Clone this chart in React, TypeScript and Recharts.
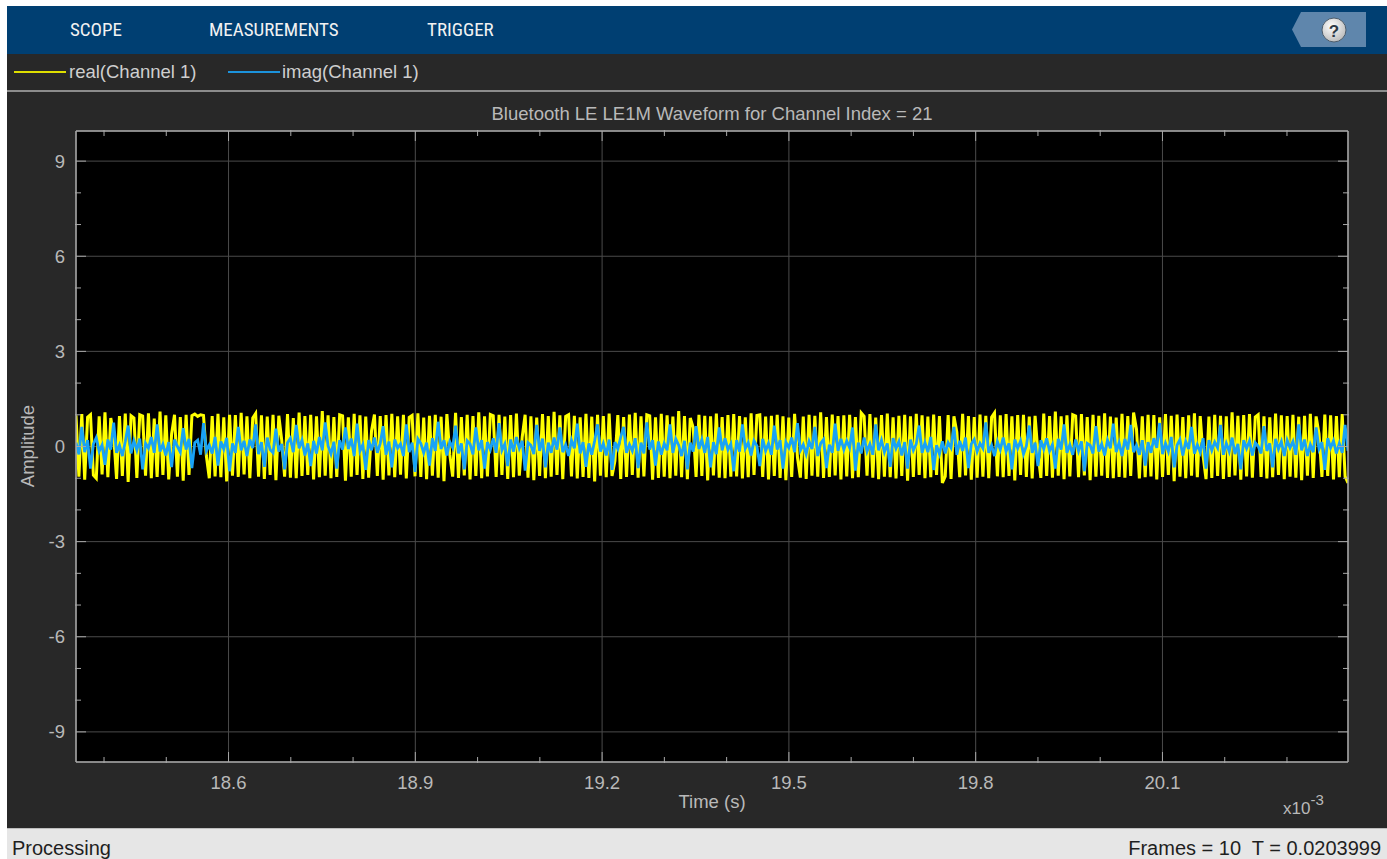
import React from "react";
import { LineChart, Line, XAxis, YAxis, CartesianGrid } from "recharts";

const REAL_CH1 = [
  0.98, -0.95, 1.02, -1.05, 0.92, 1.0, -0.9, -1.0, 0.95, -0.88, 1.08, -0.97, 0.9, 0.35, -1.02, 0.96, -0.93, 1.04, -1.12, 0.97,
  0.9, -0.99, 1.0, 0.96, -0.92, 1.05, -1.0, 0.88, -0.96, 1.1, -0.9, 0.98, -1.04, 0.4, 1.0, -0.95, 0.93, -1.08, 1.0, -0.9,
  0.97, 1.02, 0.95, 1.0, 0.98, -0.3, -1.0, 0.96, -0.94, 1.03, -0.97, 0.92, -1.1, 1.0, -0.92, 0.99, -0.96, 1.06, -0.88, 0.95,
  -1.0, 0.9, 1.04, -0.95, 0.98, -1.02, 0.94, -0.9, 1.0, -1.06, 0.97, 0.2, -0.95, 1.02, -0.98, 0.9, -1.0, 1.07, -0.93, 0.96,
  -0.9, 1.0, -1.04, 0.95, -0.97, 1.12, -0.92, 0.98, -1.0, 0.93, -0.96, 1.0, 0.97, -1.08, 0.92, -0.95, 1.03, -0.9, 0.98, -1.02,
  0.94, -0.98, 0.5, 1.01, -0.93, 0.96, -1.05, 0.99, -0.91, 1.03, -0.97, 0.95, -0.89, 1.0, -1.01, 0.92, 0.98, -0.94, 1.05, -0.96,
  0.91, -1.03, 0.97, -0.92, 1.0, -0.98, 0.94, -1.09, 1.02, -0.25, -0.95, 1.06, -0.99, 0.93, -0.91, 1.0, -1.04, 0.96, -0.93, 1.08,
  -1.0, 0.95, -0.94, 1.01, 0.97, -0.96, 1.0, -0.9, 0.94, -1.02, 0.99, -0.97, 1.04, -0.92, 0.3, 1.0, -0.98, 0.95, -1.06, 0.91,
  -0.93, 1.02, -1.0, 0.96, -0.95, 1.09, -0.9, 0.98, -1.03, 0.95, 1.0, -0.94, 0.97, -1.01, 0.92, -0.96, 1.03, -0.99, 0.94, -1.1,
  1.0, -0.92, 0.96, -0.97, 1.04, -0.93, -0.45, 0.99, -1.02, 0.93, -0.96, 1.01, -0.9, 1.06, -0.98, 0.95, -0.94, 1.0, 0.97, -1.05,
  0.92, -0.99, 1.03, -0.95, 0.98, -1.0, 0.94, -0.92, 1.12, -0.97, 0.96, -1.03, 0.9, 0.6, -0.96, 1.0, -0.93, 0.97, -1.07, 0.95,
  -0.91, 1.04, -0.98, 0.93, -1.0, 0.99, -0.95, 1.02, -0.94, 0.96, -1.01, 0.92, -0.97, 1.05, -0.9, 0.98, 1.0, -0.96, 0.94, -1.04,
  0.97, -0.93, 1.0, -0.99, 0.95, -1.06, 0.91, -0.96, 1.03, -0.35, -0.98, 0.94, -1.02, 1.0, -0.92, 0.97, -0.95, 1.08, -0.99, 0.93,
  -0.96, 1.01, -0.91, 0.96, -1.04, 0.98, -0.94, 1.0, -1.0, 0.93, -0.97, 1.06, 0.95, -0.92, 1.02, -0.98, 0.91, -1.03, 0.99, -0.95,
  1.04, -0.97, 0.92, -1.01, 0.97, -0.93, 1.0, -1.08, 0.95, -0.96, 1.03, -0.9, 0.98, -1.0, 0.94, -0.97, 1.01, -0.9, 0.96, -1.15,
  -0.94, 0.99, -1.02, 0.95, 0.45, -0.97, 1.03, -0.91, 0.96, -1.05, 0.93, -0.98, 1.01, -0.95, 0.97, -1.0, 0.92, 1.06, -0.94, 0.98,
  -0.97, 1.02, -0.93, 0.95, -1.07, 0.99, -0.9, 1.0, -0.96, 0.94, -1.01, 0.97, -0.2, -0.99, 1.04, -0.93, 0.96, -0.98, 1.1, -0.92,
  0.95, -1.03, 0.98, -0.94, 1.0, 0.96, -0.97, 1.02, -0.91, 0.93, -1.06, 1.0, -0.95, 0.97, -0.92, 1.05, -0.99, 0.94, -1.0, 0.91,
  -0.96, 1.03, -0.98, 0.96, -0.93, 1.07, 0.55, -1.01, 0.95, -0.97, 1.0, -0.94, 0.99, -1.04, 0.92, -0.96, 1.02, -0.9, 0.97, -1.09,
  1.01, -0.95, 0.93, -1.0, 0.98, -0.92, 1.05, -0.97, 0.96, -0.3, -1.03, 0.94, -0.99, 1.0, -0.93, 0.97, -1.02, 0.95, -0.96, 1.08,
  -0.91, 0.97, -1.05, 0.99, -0.94, 1.02, -0.98, 0.93, 1.0, -0.96, 0.95, -1.01, 0.92, -0.97, 1.04, -0.9, 0.98, -1.03, 0.96, -0.95,
  1.0, -0.98, 0.94, -1.06, 0.97, -0.92, 1.03, -0.99, 0.95, 0.4, -0.96, 1.01, -0.93, 0.98, -1.04, 0.96, -0.97, 1.02, -0.94, -1.15,
];

// imag(Channel 1) samples
const IMAG_CH1 = [
  0.12, -0.25, 0.62, -0.18, 0.2, -0.7, 0.08, 0.28, -0.15, 0.05, -0.58, 0.22, -0.1, 0.75, -0.2, 0.04, -0.3, 0.15, 0.66, -0.22,
  0.18, -0.12, 0.25, -0.72, 0.1, -0.05, 0.3, -0.2, 0.7, -0.16, 0.07, -0.28, 0.14, -0.65, 0.22, 0.0, -0.18, 0.58, -0.1, 0.24,
  -0.68, 0.12, 0.2, -0.26, 0.74, -0.14, 0.05, -0.22, 0.3, -0.6, 0.16, -0.08, 0.27, -0.78, 0.1, -0.2, 0.62, -0.12, 0.18, -0.3,
  0.22, -0.05, 0.7, -0.24, 0.14, -0.64, 0.28, -0.1, -0.2, 0.56, -0.16, 0.08, -0.72, 0.12, 0.26, -0.18, 0.68, -0.06, 0.2, -0.28,
  0.1, -0.62, 0.18, -0.22, 0.3, -0.12, 0.76, 0.02, -0.24, 0.15, -0.7, 0.2, -0.1, 0.6, -0.08, 0.25, -0.3, 0.72, -0.14, 0.06,
  -0.74, 0.2, -0.12, 0.28, -0.2, 0.1, 0.64, -0.26, 0.16, -0.66, 0.22, -0.05, 0.08, -0.3, 0.7, -0.18, 0.12, -0.8, 0.24, 0.1,
  -0.2, 0.12, -0.6, 0.26, -0.14, 0.78, -0.08, 0.2, -0.28, 0.15, -0.04, 0.66, -0.22, 0.1, -0.72, 0.18, 0.08, -0.25, 0.6, -0.12,
  0.2, -0.7, 0.14, -0.1, 0.26, -0.2, 0.74, -0.12, 0.08, -0.62, 0.22, -0.16, 0.3, -0.06, 0.18, -0.76, 0.12, 0.04, -0.24, 0.68,
  -0.14, 0.25, -0.66, 0.12, -0.2, 0.28, -0.1, 0.6, -0.18, 0.06, -0.3, 0.2, -0.06, 0.72, -0.22, 0.14, -0.64, 0.1, -0.26, 0.18,
  0.7, -0.16, 0.1, -0.28, 0.22, -0.74, 0.14, -0.08, 0.3, 0.62, -0.2, 0.06, -0.14, 0.26, -0.68, 0.12, -0.22, 0.76, -0.1, 0.2,
  -0.6, 0.16, -0.26, 0.1, -0.12, 0.7, -0.2, 0.24, 0.04, -0.3, 0.18, -0.72, 0.12, -0.16, 0.64, -0.08, 0.22, -0.2, 0.3, -0.66,
  0.14, -0.24, 0.6, -0.12, 0.26, -0.1, 0.08, -0.78, 0.2, -0.16, 0.7, -0.06, 0.12, -0.28, 0.18, 0.02, -0.62, 0.24, -0.14, 0.1,
  -0.26, 0.66, -0.1, 0.2, -0.7, 0.14, -0.04, 0.28, -0.18, 0.74, -0.12, 0.06, -0.24, 0.16, -0.08, 0.62, -0.3, 0.1, 0.22, -0.68,
  0.06, -0.2, 0.72, -0.14, 0.24, -0.1, 0.18, -0.04, 0.6, -0.76, 0.12, -0.22, 0.28, -0.16, 0.08, -0.26, 0.7, -0.12, 0.2, -0.18,
  0.1, -0.64, 0.26, -0.06, 0.16, -0.28, 0.14, -0.7, 0.22, -0.12, 0.08, 0.66, -0.2, 0.12, -0.18, 0.3, -0.74, 0.04, -0.24, 0.16,
  -0.22, 0.12, -0.04, 0.62, -0.26, 0.18, -0.14, 0.28, -0.68, 0.08, 0.22, -0.16, 0.1, -0.06, 0.76, -0.2, 0.04, -0.3, 0.16, -0.1,
  0.28, -0.16, 0.1, -0.72, 0.22, -0.06, 0.18, -0.24, 0.02, 0.66, -0.2, 0.12, -0.62, 0.2, -0.08, 0.26, -0.14, 0.06, -0.7, 0.24,
  -0.1, 0.7, -0.2, 0.06, -0.26, 0.22, -0.14, 0.16, -0.78, 0.1, 0.04, -0.22, 0.64, -0.16, 0.08, -0.28, 0.2, -0.06, 0.72, -0.18,
  0.12, -0.3, 0.24, -0.1, 0.68, -0.18, 0.04, -0.26, 0.2, -0.6, 0.14, -0.2, 0.26, -0.04, 0.74, -0.24, 0.1, -0.16, 0.3, -0.66,
  0.04, 0.22, -0.28, 0.16, -0.08, 0.62, -0.22, 0.06, -0.18, 0.26, -0.7, 0.2, -0.12, 0.14, -0.04, 0.68, -0.26, 0.1, -0.16, 0.28,
  -0.24, 0.08, -0.72, 0.2, -0.06, 0.18, -0.28, 0.12, 0.01, -0.22, 0.64, -0.14, 0.1, -0.66, 0.24, -0.08, 0.16, -0.3, 0.2, -0.04,
  0.16, -0.26, 0.7, -0.12, 0.22, -0.3, 0.06, -0.18, 0.6, -0.08, 0.14, -0.74, 0.26, -0.04, 0.18, -0.22, 0.1, -0.2, 0.68, -0.14,
];

// time span shown, in ms (axis is labelled x10^-3 s)
const T_START = 18.355;
const T_END = 20.398;

const X_TICKS = [18.6, 18.9, 19.2, 19.5, 19.8, 20.1];
const X_MINOR = [18.4, 18.5, 18.7, 18.8, 19.0, 19.1, 19.3, 19.4, 19.6, 19.7, 19.9, 20.0, 20.2, 20.3];
const Y_TICKS = [-9, -6, -3, 0, 3, 6, 9];
const Y_MINOR = [-8, -7, -5, -4, -2, -1, 1, 2, 4, 5, 7, 8];
const Y_DOMAIN = [-9.95, 9.95];

const TABS = ["SCOPE", "MEASUREMENTS", "TRIGGER"];
const TAB_LEFT = [70, 209, 427];

const FONT = '"Liberation Sans", Arial, Helvetica, sans-serif';
const NARROW = '"Liberation Sans Narrow", "Arial Narrow", "Roboto Condensed", "Liberation Sans", sans-serif';
const AXIS = "#a8a8a8";
const TXT = "#b9b9b9";

const rows = REAL_CH1.map((re, i) => ({
  t: T_START + (i * (T_END - T_START)) / (REAL_CH1.length - 1),
  re,
  im: IMAG_CH1[i],
}));

// ticks point into the plot, MATLAB style; tickSize 0 puts (x, y) right on the axis line
type Side = "bottom" | "top" | "left" | "right";
const inwardTick = (side: Side, len: number, label?: (v: number) => string) => (p: any) => {
  const { x, y, payload } = p;
  const dx = side === "left" ? len : side === "right" ? -len : 0;
  const dy = side === "bottom" ? -len : side === "top" ? len : 0;
  return (
    <g>
      <line x1={x} y1={y} x2={x + dx} y2={y + dy} stroke={AXIS} strokeWidth={1} />
      {label && side === "bottom" && (
        <text x={x} y={y + 27} textAnchor="middle" fontSize={18.5} fontFamily={FONT} fill={TXT}>
          {label(payload.value)}
        </text>
      )}
      {label && side === "left" && (
        <text x={x - 11} y={y + 6.5} textAnchor="end" fontSize={18.5} fontFamily={FONT} fill={TXT}>
          {label(payload.value)}
        </text>
      )}
    </g>
  );
};

const xBase = {
  dataKey: "t",
  type: "number" as const,
  domain: [T_START, T_END],
  allowDataOverflow: true,
  interval: 0 as const,
  height: 1,
  stroke: AXIS,
  tickLine: false,
  tickSize: 0,
  tickMargin: 0,
};
const yBase = {
  type: "number" as const,
  domain: Y_DOMAIN,
  allowDataOverflow: true,
  interval: 0 as const,
  width: 1,
  stroke: AXIS,
  tickLine: false,
  tickSize: 0,
  tickMargin: 0,
};

export default function App() {
  return (
    <div
      style={{
        position: "fixed",
        left: 0,
        top: 0,
        width: 1387,
        height: 859,
        background: "#fff",
        overflow: "hidden",
        fontFamily: FONT,
      }}
    >
      {/* toolstrip */}
      <div style={{ position: "absolute", left: 7, top: 6, width: 1380, height: 48, background: "#003f72" }} />
      {TABS.map((name, i) => (
        <div
          key={name}
          style={{
            position: "absolute",
            left: TAB_LEFT[i],
            top: 19,
            fontFamily: NARROW,
            fontSize: 19,
            lineHeight: "22px",
            color: "#f2f2f2",
          }}
        >
          {name}
        </div>
      ))}
      <svg style={{ position: "absolute", left: 0, top: 0 }} width={1387} height={60}>
        <defs>
          <radialGradient id="helpg" cx="40%" cy="35%" r="70%">
            <stop offset="0%" stopColor="#ffffff" />
            <stop offset="100%" stopColor="#b9b9b9" />
          </radialGradient>
        </defs>
        <polygon points="1301,12 1366,12 1366,47 1301,47 1292,29.5" fill="#5f86ac" />
        <circle cx={1334} cy={30} r={12} fill="url(#helpg)" stroke="#4d5d6c" strokeWidth={1} />
        <text x={1334} y={36.5} textAnchor="middle" fontSize={17} fontWeight="bold" fill="#2d3a46" fontFamily={FONT}>
          ?
        </text>
      </svg>

      {/* legend row */}
      <div style={{ position: "absolute", left: 7, top: 54, width: 1380, height: 36, background: "#282828" }} />
      <div style={{ position: "absolute", left: 14, top: 71, width: 52, height: 2, background: "#dede00" }} />
      <div style={{ position: "absolute", left: 69, top: 61, fontSize: 18.5, lineHeight: "22px", color: "#cfcfcf" }}>
        real(Channel 1)
      </div>
      <div style={{ position: "absolute", left: 228, top: 71, width: 52, height: 2, background: "#1c93dc" }} />
      <div style={{ position: "absolute", left: 282, top: 61, fontSize: 18.5, lineHeight: "22px", color: "#cfcfcf" }}>
        imag(Channel 1)
      </div>
      <div style={{ position: "absolute", left: 7, top: 90, width: 1380, height: 2, background: "#8c8c8c" }} />

      {/* plot panel */}
      <div style={{ position: "absolute", left: 7, top: 92, width: 1380, height: 736, background: "#282828" }} />
      <div style={{ position: "absolute", left: 76, top: 131, width: 1272, height: 631, background: "#000" }} />
      <div
        style={{
          position: "absolute",
          left: 76,
          width: 1272,
          top: 103,
          textAlign: "center",
          fontSize: 18.5,
          lineHeight: "22px",
          color: TXT,
        }}
      >
        Bluetooth LE LE1M Waveform for Channel Index = 21
      </div>
      <div
        style={{
          position: "absolute",
          left: 28,
          top: 446,
          transform: "translate(-50%, -50%) rotate(-90deg)",
          fontSize: 18.5,
          lineHeight: "22px",
          color: TXT,
          whiteSpace: "nowrap",
        }}
      >
        Amplitude
      </div>
      <div
        style={{
          position: "absolute",
          left: 76,
          width: 1272,
          top: 791,
          textAlign: "center",
          fontSize: 18.5,
          lineHeight: "22px",
          color: TXT,
        }}
      >
        Time (s)
      </div>
      <div style={{ position: "absolute", left: 1283, top: 792, fontSize: 17, lineHeight: "20px", color: TXT }}>
        x10<sup style={{ fontSize: 15, position: "relative", top: -2 }}>-3</sup>
      </div>

      <div style={{ position: "absolute", left: 0, top: 92 }}>
        <LineChart width={1387} height={736} data={rows} margin={{ top: 37, right: 37, bottom: 64, left: 74 }}>
          <CartesianGrid stroke="#4b4b4b" strokeWidth={1} />
          <XAxis
            {...xBase}
            ticks={X_TICKS}
            strokeWidth={1.5}
            tick={inwardTick("bottom", 10, (v) => v.toFixed(1))}
          />
          <XAxis {...xBase} xAxisId="xm" ticks={X_MINOR} axisLine={false} tick={inwardTick("bottom", 6)} />
          <XAxis {...xBase} xAxisId="xt" orientation="top" ticks={X_TICKS} strokeWidth={1.5} tick={inwardTick("top", 10)} />
          <XAxis {...xBase} xAxisId="xtm" orientation="top" ticks={X_MINOR} axisLine={false} tick={inwardTick("top", 6)} />
          <YAxis {...yBase} ticks={Y_TICKS} strokeWidth={1.5} tick={inwardTick("left", 10, (v) => String(v))} />
          <YAxis {...yBase} yAxisId="ym" ticks={Y_MINOR} axisLine={false} tick={inwardTick("left", 6)} />
          <YAxis {...yBase} yAxisId="yr" orientation="right" ticks={Y_TICKS} strokeWidth={1.5} tick={inwardTick("right", 10)} />
          <YAxis {...yBase} yAxisId="yrm" orientation="right" ticks={Y_MINOR} axisLine={false} tick={inwardTick("right", 6)} />
          <Line
            type="linear"
            dataKey="re"
            stroke="#ffff00"
            strokeWidth={3}
            dot={false}
            isAnimationActive={false}
          />
          <Line
            type="linear"
            dataKey="im"
            stroke="#19a3f5"
            strokeWidth={2.8}
            dot={false}
            isAnimationActive={false}
          />
        </LineChart>
      </div>

      {/* status bar */}
      <div
        style={{
          position: "absolute",
          left: 7,
          top: 828,
          width: 1380,
          height: 31,
          background: "#e6e6e6",
          borderTop: "1px solid #bdbdbd",
        }}
      />
      <div style={{ position: "absolute", left: 12, top: 836, fontSize: 20, lineHeight: "24px", color: "#1f1f1f" }}>
        Processing
      </div>
      <div
        style={{
          position: "absolute",
          right: 6,
          top: 836,
          fontSize: 20,
          lineHeight: "24px",
          color: "#1f1f1f",
          whiteSpace: "pre",
        }}
      >
        {"Frames = 10  T = 0.0203999"}
      </div>
    </div>
  );
}
